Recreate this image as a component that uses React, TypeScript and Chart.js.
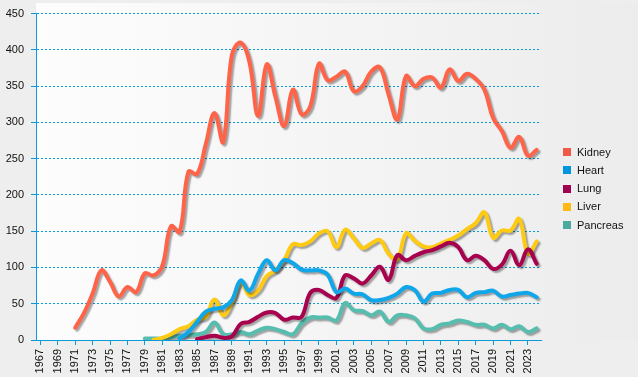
import React, { useEffect, useRef } from "react";
import { Chart, registerables } from "chart.js";

Chart.register(...registerables);

const years = [
  "1967","1968","1969","1970","1971","1972","1973","1974","1975","1976",
  "1977","1978","1979","1980","1981","1982","1983","1984","1985","1986",
  "1987","1988","1989","1990","1991","1992","1993","1994","1995","1996",
  "1997","1998","1999","2000","2001","2002","2003","2004","2005","2006",
  "2007","2008","2009","2010","2011","2012","2013","2014","2015","2016",
  "2017","2018","2019","2020","2021","2022","2023","2024",
];

const kidney = [
  null, null, null, null, 17, 37, 64, 96, 80, 60,
  73, 66, 92, 89, 102, 157, 149, 232, 229, 270,
  313, 273, 393, 410, 384, 309, 380, 335, 295, 345,
  311, 322, 381, 358, 363, 370, 343, 350, 370, 376,
  338, 304, 364, 350, 360, 362, 348, 373, 357, 367,
  360, 345, 306, 288, 265, 280, 254, 262,
];

const heart = [
  null, null, null, null, null, null, null, null, null, null,
  null, null, null, null, null, null, 2, 11, 25, 39,
  43, 45, 55, 82, 68, 91, 110, 96, 110, 106,
  97, 96, 96, 90, 66, 71, 64, 63, 55, 55,
  58, 64, 73, 69, 53, 64, 65, 69, 69, 59,
  65, 66, 68, 60, 62, 64, 65, 59,
];

const lung = [
  null, null, null, null, null, null, null, null, null, null,
  null, null, null, null, null, null, null, null, 1, 4,
  6, 3, 5, 22, 25, 32, 38, 37, 28, 31,
  32, 65, 69, 62, 58, 89, 85, 78, 89, 101,
  83, 117, 110, 116, 121, 124, 129, 134, 128, 110,
  116, 110, 98, 104, 123, 103, 125, 105,
];

const liver = [
  null, null, null, null, null, null, null, null, null, null,
  null, null, null, 0, 3, 8, 15, 19, 28, 32,
  56, 34, 52, 80, 62, 68, 88, 96, 110, 132,
  131, 136, 147, 150, 128, 152, 140, 127, 133, 138,
  119, 111, 147, 137, 129, 128, 133, 138, 144, 153,
  161, 176, 141, 151, 151, 167, 119, 136,
];

const pancreas = [
  null, null, null, null, null, null, null, null, null, null,
  null, null, 2, 2, 2, 4, 6, 7, 8, 11,
  24, 8, 8, 11, 8, 13, 17, 15, 11, 8,
  23, 31, 31, 31, 27, 51, 41, 40, 34, 39,
  25, 34, 34, 30, 16, 15, 21, 23, 27, 25,
  21, 21, 16, 21, 15, 19, 11, 16,
];

const seriesNames = ["Kidney", "Heart", "Lung", "Liver", "Pancreas"];
const lineColors = ["#FF6449", "#10A6EA", "#A8024F", "#FFCB12", "#57BDAE"];
const legendColors = ["#F05A46", "#0096DC", "#A0004F", "#FFB914", "#4BAAA0"];

const yTicks = [0, 50, 100, 150, 200, 250, 300, 350, 400, 450];

const AXIS_BLUE = "#0A9BD8";
const FONT = "Arial, 'Liberation Sans', sans-serif";

const bgPlugin = {
  id: "bgPlugin",
  beforeDraw(chart: any) {
    const { ctx, width, height, chartArea } = chart;
    ctx.save();
    ctx.fillStyle = "#EEEEEE";
    ctx.fillRect(0, 0, width, height);
    const g = ctx.createLinearGradient(chartArea.left, 0, width, 0);
    g.addColorStop(0, "#FDFDFD");
    g.addColorStop(1, "#ECECEC");
    ctx.fillStyle = g;
    ctx.fillRect(chartArea.left, 3, width - chartArea.left, chartArea.bottom - 3);
    ctx.restore();
  },
};

const shadowPlugin = {
  id: "shadowPlugin",
  beforeDatasetsDraw(chart: any) {
    const ctx = chart.ctx;
    ctx.save();
    ctx.shadowColor = "rgba(0,0,0,0.35)";
    ctx.shadowOffsetX = 2;
    ctx.shadowOffsetY = 2;
    ctx.shadowBlur = 1.5;
  },
  afterDatasetsDraw(chart: any) {
    chart.ctx.restore();
  },
};

const legendPlugin = {
  id: "customLegend",
  afterDraw(chart: any) {
    const ctx = chart.ctx;
    ctx.save();
    ctx.font = `11px ${FONT}`;
    ctx.textBaseline = "middle";
    ctx.textAlign = "left";
    chart.data.datasets.forEach((ds: any, i: number) => {
      const cy = 152 + i * 18.25;
      ctx.fillStyle = legendColors[i];
      ctx.fillRect(563, Math.round(cy - 4), 8, 8);
      ctx.fillStyle = "#111";
      ctx.fillText(ds.label, 577, cy + 0.5);
    });
    ctx.restore();
  },
};

export default function App() {
  const ref = useRef<HTMLCanvasElement | null>(null);

  useEffect(() => {
    if (!ref.current) return;
    const seriesData = [kidney, heart, lung, liver, pancreas];
    const chart = new Chart(ref.current, {
      type: "line",
      data: {
        labels: years,
        datasets: seriesNames.map((name, i) => ({
          label: name,
          data: seriesData[i],
          borderColor: lineColors[i],
          backgroundColor: legendColors[i],
          borderWidth: 4,
          pointRadius: 0,
          pointHoverRadius: 0,
          tension: 0.4,
          borderCapStyle: "round",
          borderJoinStyle: "round",
          fill: false,
          spanGaps: false,
        })),
      },
      options: {
        responsive: false,
        animation: false,
        events: [],
        layout: { padding: { top: 12, right: 97, left: 0, bottom: 0 } },
        plugins: {
          legend: { display: false },
          tooltip: { enabled: false },
        },
        scales: {
          x: {
            type: "category",
            offset: true,
            afterBuildTicks: (scale: any) => {
              scale.ticks = scale.ticks.filter((_t: any, i: number) => i % 2 === 0);
            },
            afterFit: (scale: any) => {
              scale.height = 37;
            },
            grid: {
              display: true,
              drawOnChartArea: false,
              drawTicks: true,
              tickLength: 5,
              tickColor: AXIS_BLUE,
              color: AXIS_BLUE,
            },
            border: { display: true, color: AXIS_BLUE, width: 1 },
            ticks: {
              autoSkip: false,
              maxRotation: 90,
              minRotation: 90,
              padding: 4,
              color: "#111",
              font: { family: FONT, size: 11 },
            },
          },
          y: {
            min: 0,
            max: 450,
            afterBuildTicks: (scale: any) => {
              scale.ticks = yTicks.map((v) => ({ value: v }));
            },
            afterFit: (scale: any) => {
              scale.width = 36;
            },
            grid: {
              color: AXIS_BLUE,
              lineWidth: 1,
              drawTicks: true,
              tickLength: 5,
              tickColor: AXIS_BLUE,
              tickBorderDash: [],
            },
            border: { display: true, color: AXIS_BLUE, width: 1, dash: [2, 2] },
            ticks: {
              stepSize: 50,
              padding: 7,
              color: "#111",
              font: { family: FONT, size: 11 },
            },
          },
        },
      },
      plugins: [bgPlugin, shadowPlugin, legendPlugin],
    } as any);
    return () => chart.destroy();
  }, []);

  return (
    <canvas
      ref={ref}
      width={638}
      height={377}
      style={{ position: "fixed", left: 0, top: 0, width: 638, height: 377 }}
    />
  );
}
